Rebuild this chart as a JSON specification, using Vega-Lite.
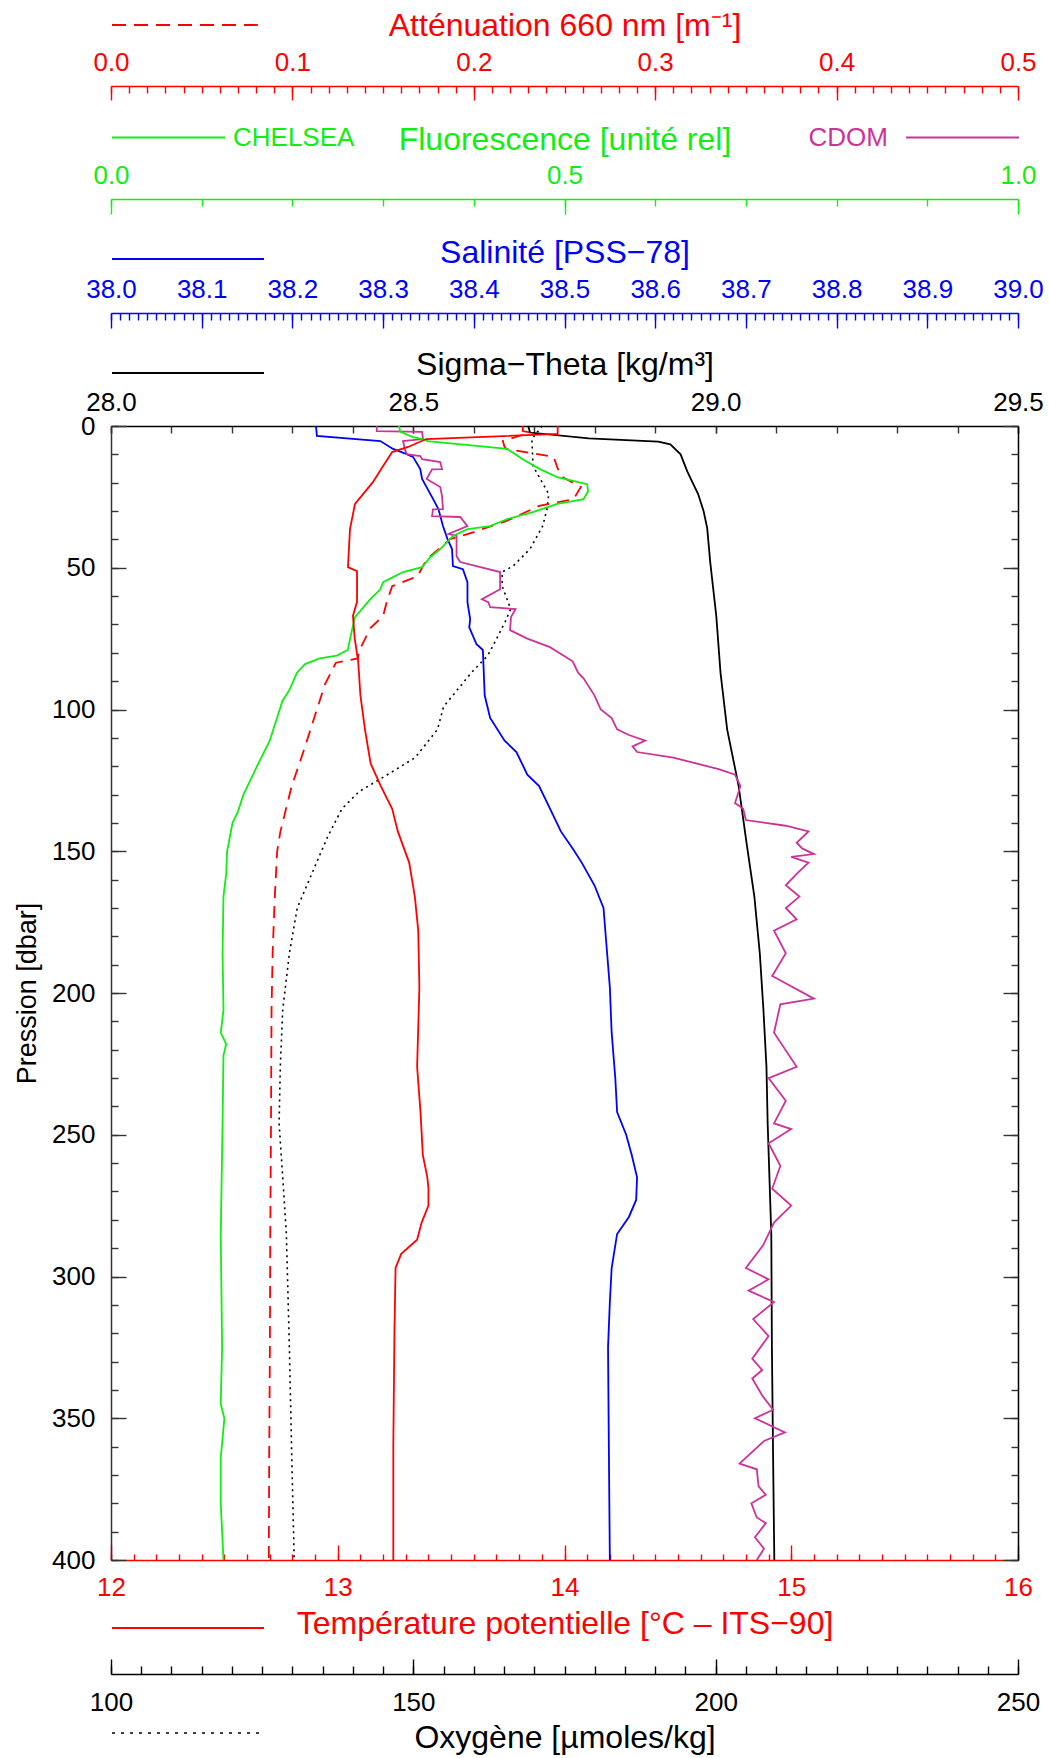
{
  "$schema": "https://vega.github.io/schema/vega-lite/v6.json",
  "width": 907,
  "height": 1134,
  "autosize": {"type": "none"},
  "padding": {"left": 111, "top": 426, "right": 31, "bottom": 198},
  "background": "white",
  "datasets": {
    "temp": [
      {"p": 0, "v": 13.97}, {"p": 2.8, "v": 13.97}, {"p": 4.6, "v": 13.39}, {"p": 7.4, "v": 13.31},
      {"p": 9.2, "v": 13.24}, {"p": 14.1, "v": 13.2}, {"p": 19.8, "v": 13.155}, {"p": 27.5, "v": 13.076},
      {"p": 36.4, "v": 13.054}, {"p": 49.8, "v": 13.045}, {"p": 51.2, "v": 13.085}, {"p": 62, "v": 13.085},
      {"p": 67, "v": 13.067}, {"p": 75, "v": 13.075}, {"p": 83, "v": 13.09}, {"p": 95, "v": 13.1},
      {"p": 107, "v": 13.12}, {"p": 119, "v": 13.145}, {"p": 127, "v": 13.19}, {"p": 135, "v": 13.24},
      {"p": 143, "v": 13.265}, {"p": 154, "v": 13.315}, {"p": 166, "v": 13.34}, {"p": 178, "v": 13.355},
      {"p": 198, "v": 13.36}, {"p": 226, "v": 13.35}, {"p": 242, "v": 13.365}, {"p": 257, "v": 13.375},
      {"p": 265, "v": 13.395}, {"p": 269, "v": 13.4}, {"p": 275, "v": 13.4}, {"p": 281, "v": 13.37},
      {"p": 287, "v": 13.35}, {"p": 292, "v": 13.28}, {"p": 297, "v": 13.255}, {"p": 320, "v": 13.25},
      {"p": 360, "v": 13.245}, {"p": 400, "v": 13.245}
    ],
    "sal": [
      {"p": 0, "v": 38.226}, {"p": 3.5, "v": 38.227}, {"p": 5.3, "v": 38.297}, {"p": 8.1, "v": 38.311},
      {"p": 9.9, "v": 38.326}, {"p": 10.9, "v": 38.333}, {"p": 15.2, "v": 38.341}, {"p": 18.7, "v": 38.343},
      {"p": 25.1, "v": 38.354}, {"p": 29.3, "v": 38.361}, {"p": 35.3, "v": 38.366}, {"p": 39.9, "v": 38.371},
      {"p": 43.4, "v": 38.376}, {"p": 49.4, "v": 38.377}, {"p": 50.5, "v": 38.388}, {"p": 55.1, "v": 38.393},
      {"p": 62.1, "v": 38.393}, {"p": 68.1, "v": 38.396}, {"p": 71, "v": 38.395}, {"p": 77, "v": 38.403},
      {"p": 79, "v": 38.41}, {"p": 95, "v": 38.412}, {"p": 103, "v": 38.418}, {"p": 111, "v": 38.434},
      {"p": 115, "v": 38.447}, {"p": 123, "v": 38.459}, {"p": 127, "v": 38.472}, {"p": 135, "v": 38.484},
      {"p": 143, "v": 38.496}, {"p": 149, "v": 38.509}, {"p": 154, "v": 38.519}, {"p": 162, "v": 38.533},
      {"p": 170, "v": 38.543}, {"p": 182, "v": 38.546}, {"p": 198, "v": 38.55}, {"p": 214, "v": 38.552},
      {"p": 230, "v": 38.556}, {"p": 242, "v": 38.558}, {"p": 250, "v": 38.568}, {"p": 257, "v": 38.574},
      {"p": 265, "v": 38.58}, {"p": 273, "v": 38.579}, {"p": 279, "v": 38.571}, {"p": 285, "v": 38.558},
      {"p": 297, "v": 38.552}, {"p": 309, "v": 38.55}, {"p": 325, "v": 38.548}, {"p": 364, "v": 38.549},
      {"p": 400, "v": 38.55}
    ],
    "sig": [
      {"p": 0, "v": 28.69}, {"p": 2.3, "v": 28.693}, {"p": 4.4, "v": 28.79}, {"p": 5.5, "v": 28.905},
      {"p": 6.5, "v": 28.925}, {"p": 10, "v": 28.942}, {"p": 16, "v": 28.953}, {"p": 24, "v": 28.971},
      {"p": 30, "v": 28.98}, {"p": 36, "v": 28.986}, {"p": 48, "v": 28.991}, {"p": 67, "v": 29.001},
      {"p": 87, "v": 29.008}, {"p": 107, "v": 29.019}, {"p": 127, "v": 29.038}, {"p": 147, "v": 29.051},
      {"p": 166, "v": 29.064}, {"p": 186, "v": 29.073}, {"p": 206, "v": 29.079}, {"p": 226, "v": 29.084},
      {"p": 246, "v": 29.086}, {"p": 285, "v": 29.092}, {"p": 325, "v": 29.093}, {"p": 364, "v": 29.095},
      {"p": 400, "v": 29.097}
    ],
    "oxy": [
      {"p": 0, "v": 171.3}, {"p": 4.6, "v": 169.6}, {"p": 14.1, "v": 169.8}, {"p": 19.8, "v": 171.3},
      {"p": 24, "v": 172.4}, {"p": 29.3, "v": 172.1}, {"p": 35.3, "v": 171.4}, {"p": 43.4, "v": 169.3},
      {"p": 49.4, "v": 166.5}, {"p": 51.5, "v": 164.7}, {"p": 56.5, "v": 164.7}, {"p": 61.1, "v": 165.5},
      {"p": 64.6, "v": 166.1}, {"p": 69, "v": 165.2}, {"p": 77, "v": 163.3}, {"p": 81, "v": 162.3},
      {"p": 87, "v": 159.6}, {"p": 99, "v": 155}, {"p": 107, "v": 154}, {"p": 117, "v": 150.3},
      {"p": 123, "v": 145.7}, {"p": 129, "v": 141}, {"p": 135, "v": 138.2}, {"p": 145, "v": 135.8},
      {"p": 156, "v": 133.6}, {"p": 170, "v": 130.8}, {"p": 186, "v": 129.5}, {"p": 206, "v": 128.4},
      {"p": 226, "v": 128}, {"p": 246, "v": 127.8}, {"p": 265, "v": 128.4}, {"p": 285, "v": 129},
      {"p": 325, "v": 129.5}, {"p": 364, "v": 129.9}, {"p": 400, "v": 130.3}
    ],
    "att": [
      {"p": 0, "v": 0.227}, {"p": 1.8, "v": 0.227}, {"p": 2.3, "v": 0.231}, {"p": 5.3, "v": 0.216},
      {"p": 7.4, "v": 0.217}, {"p": 8.1, "v": 0.218}, {"p": 10.9, "v": 0.244}, {"p": 14.5, "v": 0.246},
      {"p": 17.7, "v": 0.248}, {"p": 21.5, "v": 0.259}, {"p": 25.8, "v": 0.255}, {"p": 28.2, "v": 0.236},
      {"p": 33.5, "v": 0.218}, {"p": 37.4, "v": 0.2}, {"p": 39.9, "v": 0.187}, {"p": 47, "v": 0.174},
      {"p": 53, "v": 0.169}, {"p": 56.5, "v": 0.155}, {"p": 62.1, "v": 0.152}, {"p": 67, "v": 0.15},
      {"p": 71.3, "v": 0.143}, {"p": 79, "v": 0.137}, {"p": 82, "v": 0.136}, {"p": 83.5, "v": 0.124},
      {"p": 91, "v": 0.118}, {"p": 103, "v": 0.112}, {"p": 115, "v": 0.106}, {"p": 127, "v": 0.0996},
      {"p": 135, "v": 0.0965}, {"p": 143, "v": 0.0934}, {"p": 150, "v": 0.0916}, {"p": 166, "v": 0.0903},
      {"p": 186, "v": 0.0891}, {"p": 206, "v": 0.0885}, {"p": 246, "v": 0.0882}, {"p": 285, "v": 0.0878},
      {"p": 325, "v": 0.0876}, {"p": 364, "v": 0.0872}, {"p": 400, "v": 0.087}
    ],
    "flu": [
      {"p": 0, "v": 0.3175}, {"p": 2.1, "v": 0.319}, {"p": 3.9, "v": 0.333}, {"p": 4.6, "v": 0.344},
      {"p": 5.3, "v": 0.349}, {"p": 8.1, "v": 0.437}, {"p": 11.7, "v": 0.454}, {"p": 15.2, "v": 0.473},
      {"p": 18, "v": 0.492}, {"p": 20.5, "v": 0.525}, {"p": 23, "v": 0.526}, {"p": 25.8, "v": 0.521},
      {"p": 27.5, "v": 0.492}, {"p": 30.4, "v": 0.465}, {"p": 32.8, "v": 0.437}, {"p": 35.3, "v": 0.418},
      {"p": 36.4, "v": 0.393}, {"p": 38.8, "v": 0.377}, {"p": 43.4, "v": 0.363}, {"p": 46.3, "v": 0.352},
      {"p": 49.8, "v": 0.343}, {"p": 51.5, "v": 0.322}, {"p": 53.3, "v": 0.311}, {"p": 55.1, "v": 0.3},
      {"p": 57.6, "v": 0.297}, {"p": 61.1, "v": 0.286}, {"p": 67.4, "v": 0.269}, {"p": 73, "v": 0.265},
      {"p": 79, "v": 0.261}, {"p": 81, "v": 0.249}, {"p": 82, "v": 0.23}, {"p": 84, "v": 0.214},
      {"p": 87, "v": 0.205}, {"p": 93, "v": 0.197}, {"p": 97, "v": 0.189}, {"p": 105, "v": 0.181},
      {"p": 111, "v": 0.175}, {"p": 118, "v": 0.164}, {"p": 124, "v": 0.155}, {"p": 130, "v": 0.146},
      {"p": 136, "v": 0.14}, {"p": 140, "v": 0.134}, {"p": 150, "v": 0.128}, {"p": 158, "v": 0.127},
      {"p": 166, "v": 0.124}, {"p": 186, "v": 0.123}, {"p": 206, "v": 0.124}, {"p": 214, "v": 0.121},
      {"p": 218, "v": 0.127}, {"p": 222, "v": 0.124}, {"p": 246, "v": 0.123}, {"p": 285, "v": 0.121},
      {"p": 325, "v": 0.1225}, {"p": 345, "v": 0.121}, {"p": 350, "v": 0.125}, {"p": 364, "v": 0.121},
      {"p": 380, "v": 0.121}, {"p": 400, "v": 0.124}
    ],
    "cdom": [
      {"p": 0, "v": 0.293}, {"p": 1.8, "v": 0.293}, {"p": 2.1, "v": 0.343}, {"p": 4.6, "v": 0.344},
      {"p": 5.3, "v": 0.322}, {"p": 8.1, "v": 0.324}, {"p": 9.9, "v": 0.326}, {"p": 10.6, "v": 0.341},
      {"p": 11.7, "v": 0.343}, {"p": 12.7, "v": 0.363}, {"p": 15.2, "v": 0.365}, {"p": 15.3, "v": 0.354},
      {"p": 18.7, "v": 0.348}, {"p": 21.5, "v": 0.363}, {"p": 24.7, "v": 0.365}, {"p": 29.3, "v": 0.366},
      {"p": 29.4, "v": 0.355}, {"p": 31.8, "v": 0.354}, {"p": 32.1, "v": 0.385}, {"p": 35.3, "v": 0.393},
      {"p": 38.1, "v": 0.372}, {"p": 38.8, "v": 0.381}, {"p": 45.9, "v": 0.381}, {"p": 48, "v": 0.385},
      {"p": 51.5, "v": 0.429}, {"p": 57.6, "v": 0.429}, {"p": 61.1, "v": 0.409}, {"p": 62.1, "v": 0.416},
      {"p": 63.9, "v": 0.418}, {"p": 64.6, "v": 0.446}, {"p": 67.4, "v": 0.441}, {"p": 72, "v": 0.44},
      {"p": 75, "v": 0.459}, {"p": 78, "v": 0.484}, {"p": 83, "v": 0.509}, {"p": 87, "v": 0.515},
      {"p": 89, "v": 0.521}, {"p": 95, "v": 0.533}, {"p": 100, "v": 0.54}, {"p": 103, "v": 0.552},
      {"p": 107, "v": 0.558}, {"p": 109, "v": 0.571}, {"p": 111, "v": 0.589}, {"p": 113, "v": 0.575},
      {"p": 115, "v": 0.58}, {"p": 117, "v": 0.62}, {"p": 119, "v": 0.645}, {"p": 121, "v": 0.67},
      {"p": 123, "v": 0.688}, {"p": 127, "v": 0.694}, {"p": 133, "v": 0.688}, {"p": 135, "v": 0.697},
      {"p": 139, "v": 0.7}, {"p": 141, "v": 0.744}, {"p": 143, "v": 0.769}, {"p": 147, "v": 0.756},
      {"p": 149, "v": 0.762}, {"p": 151, "v": 0.775}, {"p": 152, "v": 0.75}, {"p": 154, "v": 0.769},
      {"p": 158, "v": 0.756}, {"p": 162, "v": 0.744}, {"p": 166, "v": 0.759}, {"p": 170, "v": 0.744},
      {"p": 174, "v": 0.756}, {"p": 178, "v": 0.731}, {"p": 186, "v": 0.744}, {"p": 194, "v": 0.729},
      {"p": 202, "v": 0.775}, {"p": 204, "v": 0.738}, {"p": 214, "v": 0.731}, {"p": 226, "v": 0.756},
      {"p": 230, "v": 0.725}, {"p": 238, "v": 0.744}, {"p": 246, "v": 0.731}, {"p": 248, "v": 0.75},
      {"p": 253, "v": 0.725}, {"p": 261, "v": 0.738}, {"p": 269, "v": 0.729}, {"p": 275, "v": 0.75},
      {"p": 281, "v": 0.731}, {"p": 289, "v": 0.719}, {"p": 297, "v": 0.7}, {"p": 301, "v": 0.725},
      {"p": 305, "v": 0.703}, {"p": 309, "v": 0.731}, {"p": 315, "v": 0.708}, {"p": 321, "v": 0.725},
      {"p": 329, "v": 0.707}, {"p": 333, "v": 0.718}, {"p": 336, "v": 0.707}, {"p": 342, "v": 0.718},
      {"p": 347, "v": 0.73}, {"p": 350, "v": 0.71}, {"p": 355, "v": 0.743}, {"p": 358, "v": 0.72},
      {"p": 366, "v": 0.693}, {"p": 368, "v": 0.712}, {"p": 374, "v": 0.714}, {"p": 377, "v": 0.722},
      {"p": 380, "v": 0.706}, {"p": 385, "v": 0.712}, {"p": 387, "v": 0.722}, {"p": 392, "v": 0.71},
      {"p": 396, "v": 0.72}, {"p": 400, "v": 0.712}
    ]
  },
  "layer": [
    {
      "data": {"name": "oxy"},
      "mark": {"type": "line", "strokeWidth": 1.6, "strokeDash": [2, 4]},
      "encoding": {
        "x": {"field": "v", "type": "quantitative", "scale": {"domain": [100, 250], "nice": false, "zero": false},
          "axis": {"orient": "bottom", "offset": 114, "tickCount": 3, "format": "d", "tickSize": -15, "labelPadding": 51, "labelBaseline": "alphabetic",
            "domainColor": "#000000", "tickColor": "#000000", "labelColor": "#000000",
            "title": "Oxygène [µmoles/kg]", "titleColor": "#000000", "titleX": 453.5, "titleY": 73, "titleAlign": "center", "titleBaseline": "alphabetic"}},
        "y": {"field": "p", "type": "quantitative", "scale": {"domain": [0, 400], "reverse": true, "nice": false, "zero": false},
          "axis": {"orient": "right", "tickCount": 8, "labels": false, "tickSize": -15, "title": null, "domainColor": "#000000", "tickColor": "#333333"}},
        "order": {"field": "p", "type": "quantitative"},
        "color": {"datum": "Oxygène", "scale": {"domain": ["Oxygène"], "range": ["#000000"]},
          "legend": {"orient": "none", "legendX": 0, "legendY": 1231, "title": null, "symbolType": "stroke", "symbolSize": 22500, "symbolStrokeWidth": 1.6, "symbolDash": [3, 6], "labelExpr": "''", "padding": 0}}
      }
    },
    {
      "data": {"name": "oxy"},
      "mark": {"type": "line", "opacity": 0},
      "encoding": {
        "x": {"field": "v", "type": "quantitative", "scale": {"domain": [100, 250], "nice": false, "zero": false},
          "axis": {"orient": "bottom", "offset": 114, "tickCount": 30, "labels": false, "domain": false, "tickSize": -8, "tickColor": "#000000", "title": null}},
        "y": {"field": "p", "type": "quantitative", "scale": {"domain": [0, 400], "reverse": true, "nice": false, "zero": false},
          "axis": {"orient": "right", "tickCount": 40, "labels": false, "domain": false, "tickSize": -7, "title": null, "tickColor": "#333333"}},
        "order": {"field": "p", "type": "quantitative"}
      }
    },
    {
      "data": {"name": "att"},
      "mark": {"type": "line", "strokeWidth": 1.8, "strokeDash": [12, 8]},
      "encoding": {
        "x": {"field": "v", "type": "quantitative", "scale": {"domain": [0, 0.5], "nice": false, "zero": false},
          "axis": {"orient": "top", "offset": 340, "tickCount": 5, "format": ".1f", "tickSize": -14, "labelPadding": 29.5, "labelBaseline": "alphabetic",
            "domainColor": "#ff0000", "tickColor": "#ff0000", "labelColor": "#ff0000",
            "title": "Atténuation 660 nm [m⁻¹]", "titleColor": "#ff0000", "titleX": 453.5, "titleY": -51, "titleAlign": "center", "titleBaseline": "alphabetic"}},
        "y": {"field": "p", "type": "quantitative", "scale": {"domain": [0, 400], "reverse": true, "nice": false, "zero": false}, "axis": null},
        "order": {"field": "p", "type": "quantitative"},
        "color": {"datum": "Atténuation", "scale": {"domain": ["Atténuation"], "range": ["#ff0000"]},
          "legend": {"orient": "none", "legendX": 0, "legendY": -478, "title": null, "symbolType": "stroke", "symbolSize": 23104, "symbolStrokeWidth": 1.8, "symbolDash": [14, 8], "labelExpr": "''", "padding": 0}}
      }
    },
    {
      "data": {"name": "att"},
      "mark": {"type": "line", "opacity": 0},
      "encoding": {
        "x": {"field": "v", "type": "quantitative", "scale": {"domain": [0, 0.5], "nice": false, "zero": false},
          "axis": {"orient": "top", "offset": 340, "tickCount": 50, "labels": false, "domain": false, "tickSize": -7, "tickColor": "#ff0000", "title": null}},
        "y": {"field": "p", "type": "quantitative", "scale": {"domain": [0, 400], "reverse": true, "nice": false, "zero": false}, "axis": null},
        "order": {"field": "p", "type": "quantitative"}
      }
    },
    {
      "data": {"name": "sig"},
      "mark": {"type": "line", "strokeWidth": 1.8},
      "encoding": {
        "x": {"field": "v", "type": "quantitative", "scale": {"domain": [28, 29.5], "nice": false, "zero": false},
          "axis": {"orient": "top", "offset": 0, "tickCount": 3, "format": ".1f", "tickSize": -7, "labelPadding": 22.5, "labelBaseline": "alphabetic",
            "domainColor": "#000000", "tickColor": "#333333", "labelColor": "#000000",
            "title": "Sigma−Theta [kg/m³]", "titleColor": "#000000", "titleX": 453.5, "titleY": -52, "titleAlign": "center", "titleBaseline": "alphabetic"}},
        "y": {"field": "p", "type": "quantitative", "scale": {"domain": [0, 400], "reverse": true, "nice": false, "zero": false}, "axis": null},
        "order": {"field": "p", "type": "quantitative"},
        "color": {"datum": "Sigma", "scale": {"domain": ["Sigma"], "range": ["#000000"]},
          "legend": {"orient": "none", "legendX": 0, "legendY": -130, "title": null, "symbolType": "stroke", "symbolSize": 23104, "symbolStrokeWidth": 1.8, "labelExpr": "''", "padding": 0}}
      }
    },
    {
      "data": {"name": "sig"},
      "mark": {"type": "line", "opacity": 0},
      "encoding": {
        "x": {"field": "v", "type": "quantitative", "scale": {"domain": [28, 29.5], "nice": false, "zero": false},
          "axis": {"orient": "top", "offset": 0, "tickCount": 15, "labels": false, "domain": false, "tickSize": -7, "tickColor": "#333333", "title": null}},
        "y": {"field": "p", "type": "quantitative", "scale": {"domain": [0, 400], "reverse": true, "nice": false, "zero": false}, "axis": null},
        "order": {"field": "p", "type": "quantitative"}
      }
    },
    {
      "data": {"name": "sal"},
      "mark": {"type": "line", "strokeWidth": 1.8},
      "encoding": {
        "x": {"field": "v", "type": "quantitative", "scale": {"domain": [38, 39], "nice": false, "zero": false},
          "axis": {"orient": "top", "offset": 113, "tickCount": 10, "format": ".1f", "tickSize": -15, "labelPadding": 30.5, "labelBaseline": "alphabetic",
            "domainColor": "#0000ff", "tickColor": "#0000ff", "labelColor": "#0000ff",
            "title": "Salinité [PSS−78]", "titleColor": "#0000ff", "titleX": 453.5, "titleY": -51, "titleAlign": "center", "titleBaseline": "alphabetic"}},
        "y": {"field": "p", "type": "quantitative", "scale": {"domain": [0, 400], "reverse": true, "nice": false, "zero": false}, "axis": null},
        "order": {"field": "p", "type": "quantitative"},
        "color": {"datum": "Salinité", "scale": {"domain": ["Salinité"], "range": ["#0000ff"]},
          "legend": {"orient": "none", "legendX": 0, "legendY": -244, "title": null, "symbolType": "stroke", "symbolSize": 23104, "symbolStrokeWidth": 1.8, "labelExpr": "''", "padding": 0}}
      }
    },
    {
      "data": {"name": "sal"},
      "mark": {"type": "line", "opacity": 0},
      "encoding": {
        "x": {"field": "v", "type": "quantitative", "scale": {"domain": [38, 39], "nice": false, "zero": false},
          "axis": {"orient": "top", "offset": 113, "tickCount": 100, "labels": false, "domain": false, "tickSize": -7, "tickColor": "#0000ff", "title": null}},
        "y": {"field": "p", "type": "quantitative", "scale": {"domain": [0, 400], "reverse": true, "nice": false, "zero": false}, "axis": null},
        "order": {"field": "p", "type": "quantitative"}
      }
    },
    {
      "data": {"name": "cdom"},
      "mark": {"type": "line", "strokeWidth": 1.8},
      "encoding": {
        "x": {"field": "v", "type": "quantitative", "scale": {"domain": [0, 1], "nice": false, "zero": false}, "axis": null},
        "y": {"field": "p", "type": "quantitative", "scale": {"domain": [0, 400], "reverse": true, "nice": false, "zero": false}, "axis": null},
        "order": {"field": "p", "type": "quantitative"},
        "color": {"datum": "CDOM", "scale": {"domain": ["CDOM"], "range": ["#cc3399"]},
          "legend": {"orient": "none", "legendX": 794, "legendY": -346, "title": null, "symbolType": "stroke", "symbolSize": 12769, "symbolStrokeWidth": 1.8, "labelColor": "#cc3399", "labelAlign": "right", "labelOffset": -132, "padding": 0}}
      }
    },
    {
      "data": {"name": "flu"},
      "mark": {"type": "line", "strokeWidth": 1.8},
      "encoding": {
        "x": {"field": "v", "type": "quantitative", "scale": {"domain": [0, 1], "nice": false, "zero": false},
          "axis": {"orient": "top", "offset": 227, "tickCount": 2, "format": ".1f", "tickSize": -15, "labelPadding": 30.5, "labelBaseline": "alphabetic",
            "domainColor": "#11ee11", "tickColor": "#11ee11", "labelColor": "#11ee11",
            "title": "Fluorescence [unité rel]", "titleColor": "#11ee11", "titleX": 453.5, "titleY": -50, "titleAlign": "center", "titleBaseline": "alphabetic"}},
        "y": {"field": "p", "type": "quantitative", "scale": {"domain": [0, 400], "reverse": true, "nice": false, "zero": false}, "axis": null},
        "order": {"field": "p", "type": "quantitative"},
        "color": {"datum": "CHELSEA", "scale": {"domain": ["CHELSEA"], "range": ["#11ee11"]},
          "legend": {"orient": "none", "legendX": 0, "legendY": -346, "title": null, "symbolType": "stroke", "symbolSize": 12769, "symbolStrokeWidth": 1.8, "labelColor": "#11ee11", "labelOffset": 7, "padding": 0}}
      }
    },
    {
      "data": {"name": "flu"},
      "mark": {"type": "line", "opacity": 0},
      "encoding": {
        "x": {"field": "v", "type": "quantitative", "scale": {"domain": [0, 1], "nice": false, "zero": false},
          "axis": {"orient": "top", "offset": 227, "tickCount": 10, "labels": false, "domain": false, "tickSize": -7, "tickColor": "#11ee11", "title": null}},
        "y": {"field": "p", "type": "quantitative", "scale": {"domain": [0, 400], "reverse": true, "nice": false, "zero": false}, "axis": null},
        "order": {"field": "p", "type": "quantitative"}
      }
    },
    {
      "data": {"name": "temp"},
      "mark": {"type": "line", "strokeWidth": 1.8},
      "encoding": {
        "x": {"field": "v", "type": "quantitative", "scale": {"domain": [12, 16], "nice": false, "zero": false},
          "axis": {"orient": "bottom", "offset": 0, "tickCount": 4, "format": "d", "tickSize": -15, "labelPadding": 50, "labelBaseline": "alphabetic",
            "domainColor": "#ff0000", "tickColor": "#ff0000", "labelColor": "#ff0000",
            "title": "Température potentielle [°C – ITS−90]", "titleColor": "#ff0000", "titleX": 453.5, "titleY": 73, "titleAlign": "center", "titleBaseline": "alphabetic"}},
        "y": {"field": "p", "type": "quantitative", "scale": {"domain": [0, 400], "reverse": true, "nice": false, "zero": false},
          "axis": {"orient": "left", "tickCount": 8, "format": "d", "tickSize": -15, "labelPadding": 31, "domainColor": "#333333", "tickColor": "#333333", "labelColor": "#000000",
            "title": "Pression [dbar]", "titleColor": "#000000", "titleFontSize": 27, "titleAngle": -90, "titleX": -84, "titleY": 567, "titleAlign": "center", "titleBaseline": "middle"}},
        "order": {"field": "p", "type": "quantitative"},
        "color": {"datum": "Température", "scale": {"domain": ["Température"], "range": ["#ff0000"]},
          "legend": {"orient": "none", "legendX": 0, "legendY": 1125, "title": null, "symbolType": "stroke", "symbolSize": 23104, "symbolStrokeWidth": 1.8, "labelExpr": "''", "padding": 0}}
      }
    },
    {
      "data": {"name": "temp"},
      "mark": {"type": "line", "opacity": 0},
      "encoding": {
        "x": {"field": "v", "type": "quantitative", "scale": {"domain": [12, 16], "nice": false, "zero": false},
          "axis": {"orient": "bottom", "offset": 0, "tickCount": 40, "labels": false, "domain": false, "tickSize": -6, "tickColor": "#ff0000", "title": null}},
        "y": {"field": "p", "type": "quantitative", "scale": {"domain": [0, 400], "reverse": true, "nice": false, "zero": false},
          "axis": {"orient": "left", "tickCount": 40, "labels": false, "domain": false, "tickSize": -7, "tickColor": "#333333", "title": null}},
        "order": {"field": "p", "type": "quantitative"}
      }
    }
  ],
  "resolve": {"scale": {"x": "independent", "y": "independent", "color": "independent"}},
  "config": {
    "view": {"stroke": null},
    "axis": {
      "labelFont": "Liberation Sans", "titleFont": "Liberation Sans", "labelFontSize": 26, "titleFontSize": 32,
      "titleFontWeight": "normal", "grid": false, "labelOverlap": false, "labelFlush": false, "labelBound": false,
      "domainWidth": 1.5, "tickWidth": 1.4
    },
    "legend": {"labelFont": "Liberation Sans", "labelFontSize": 26, "labelBaseline": "middle"}
  }
}
